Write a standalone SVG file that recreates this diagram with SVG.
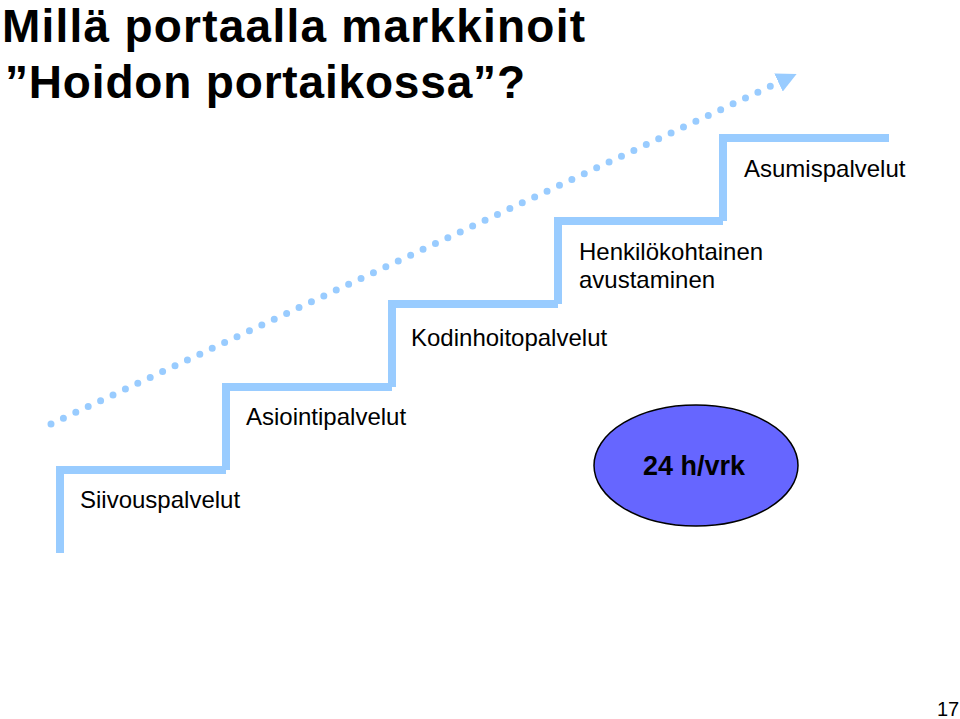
<svg xmlns="http://www.w3.org/2000/svg" width="960" height="719" viewBox="0 0 960 719">
<style>
.title{font-family:"Liberation Sans",Arial,sans-serif;font-weight:bold;font-size:46px;fill:#000}
.lbl{font-family:"Liberation Sans",Arial,sans-serif;font-size:24px;fill:#000}
.stair{fill:none;stroke:#99CCFF;stroke-width:8;stroke-linejoin:miter;stroke-linecap:butt}
.dots{fill:none;stroke:#99CCFF;stroke-width:7;stroke-linecap:round;stroke-dasharray:0 13.7}
</style>
<defs>
<marker id="ah" viewBox="0 0 10 10" refX="0" refY="5" markerUnits="userSpaceOnUse" markerWidth="20" markerHeight="20" orient="auto">
<path d="M0,0 L10,5 L0,10 z" fill="#99CCFF"/>
</marker>
</defs>
<rect width="960" height="719" fill="#fff"/>
<text class="title" x="2" y="42" textLength="583" lengthAdjust="spacing">Millä portaalla markkinoit</text>
<text class="title" x="5" y="98" textLength="520" lengthAdjust="spacing">”Hoidon portaikossa”?</text>

<g id="connectors">
<path class="dots" d="M51 424 L778.5 82.5" marker-end="url(#ah)"/>
</g>

<g id="step1">
<path class="stair" d="M60 553 V470 H226"/>
<text class="lbl" x="80" y="508">Siivouspalvelut</text>
</g>
<g id="step2">
<path class="stair" d="M226 470 V387 H392"/>
<text class="lbl" x="246" y="425">Asiointipalvelut</text>
</g>
<g id="step3">
<path class="stair" d="M392 387 V304 H558"/>
<text class="lbl" x="411" y="346">Kodinhoitopalvelut</text>
</g>
<g id="step4">
<path class="stair" d="M558 304 V221 H723"/>
<text class="lbl" x="579" y="260">Henkilökohtainen</text>
<text class="lbl" x="579" y="288">avustaminen</text>
</g>
<g id="step5">
<path class="stair" d="M723 221 V138 H889"/>
<text class="lbl" x="744" y="177">Asumispalvelut</text>
</g>

<g id="ellipse24">
<ellipse cx="696" cy="465.5" rx="102" ry="60.5" fill="#6666FF" stroke="#000" stroke-width="1.5"/>
<text x="694" y="475" text-anchor="middle" style="font-family:'Liberation Sans',Arial,sans-serif;font-weight:bold;font-size:27px;fill:#000">24 h/vrk</text>
</g>

<text x="937" y="716" style="font-family:'Liberation Sans',Arial,sans-serif;font-size:20px;fill:#000">17</text>
</svg>
